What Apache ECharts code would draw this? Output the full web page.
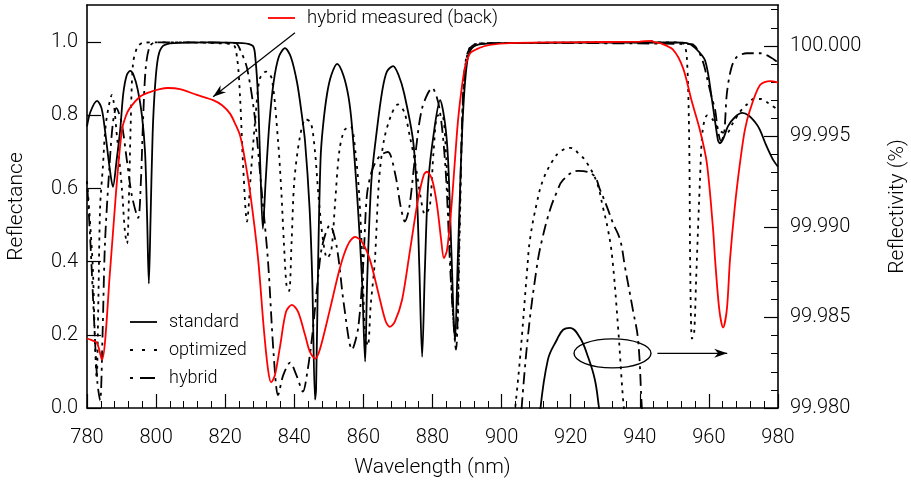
<!DOCTYPE html>
<html><head><meta charset="utf-8">
<script src="https://cdn.jsdelivr.net/npm/echarts@6/dist/echarts.min.js"></script>
<style>html,body{margin:0;padding:0;background:#fff}#c{width:911px;height:486px}</style>
</head><body><div id="c"></div>
<script>
const FONT = 'Roboto';
const WEIGHT = 300;

// axis ticks
const leftTicks = [0, 0.2, 0.4, 0.6, 0.8, 1.0];
const rightTicks = [99.98, 99.985, 99.99, 99.995, 100.0];
const rightMinor = [99.981, 99.982, 99.983, 99.984, 99.986, 99.987, 99.988, 99.989,
  99.991, 99.992, 99.993, 99.994, 99.996, 99.997, 99.998, 99.999, 100.001, 100.002];

// legend entries
const legendNames = ['standard', 'optimized', 'hybrid'];
const measuredName = 'hybrid measured (back)';

// standard design, reflectance
const stdWl = [780.0, 781.0, 782.9, 784.2, 785.2, 786.5, 787.5, 788.6, 789.6, 790.5, 791.5, 792.5, 793.5, 794.7, 795.9, 796.8, 797.4, 797.9, 798.4, 799.0, 799.7, 800.6, 802.0, 805, 815, 825, 828.0, 828.7, 829.5, 830.2, 830.9, 831.7, 832.8, 834.0, 835.5, 837.3, 839.0, 840.8, 842.2, 843.1, 844.4, 845.2, 846.0, 846.3, 846.9, 847.6, 848.3, 849.5, 850.7, 852.4, 854.2, 855.7, 856.7, 858.4, 859.6, 860.5, 861.1, 862.3, 863.9, 865.5, 866.8, 868.6, 870.2, 871.8, 874.4, 875.5, 876.2, 877.0, 877.8, 878.8, 880.5, 882.2, 883.6, 884.5, 885.5, 886.5, 887.3, 888.2, 888.8, 889.5, 890.3, 891.5, 894, 900, 950, 953.7, 956.0, 958.9, 960.9, 962.6, 963.2, 964.1, 965.5, 967.5, 969.6, 971.5, 973.5, 974.8, 976.5, 978.5, 980];
const stdR = [0.77, 0.81, 0.84, 0.82, 0.76, 0.66, 0.605, 0.68, 0.76, 0.86, 0.91, 0.922, 0.91, 0.87, 0.80, 0.70, 0.52, 0.34, 0.52, 0.75, 0.88, 0.96, 0.99, 0.998, 1.0, 0.998, 0.99, 0.96, 0.85, 0.65, 0.49, 0.62, 0.78, 0.89, 0.96, 0.984, 0.96, 0.89, 0.80, 0.73, 0.55, 0.35, 0.023, 0.05, 0.40, 0.68, 0.77, 0.86, 0.91, 0.941, 0.91, 0.85, 0.77, 0.55, 0.35, 0.127, 0.35, 0.62, 0.76, 0.87, 0.92, 0.935, 0.91, 0.86, 0.73, 0.58, 0.38, 0.14, 0.38, 0.62, 0.76, 0.842, 0.78, 0.68, 0.42, 0.18, 0.40, 0.66, 0.80, 0.90, 0.96, 0.985, 0.995, 0.998, 1.0, 0.998, 0.985, 0.95, 0.842, 0.733, 0.724, 0.735, 0.77, 0.795, 0.807, 0.80, 0.78, 0.76, 0.72, 0.68, 0.66];

// optimized design, reflectance
const optWl = [780, 780.8, 781.7, 782.3, 782.8, 783.3, 783.8, 784.6, 785.5, 787.2, 788.7, 790.1, 791.0, 791.6, 792.2, 792.6, 793.3, 794.5, 796, 800, 822, 823.4, 824.3, 825.2, 826.3, 827.5, 828.8, 830.0, 831.8, 833.5, 835.3, 836.2, 837.0, 837.8, 838.5, 839.2, 840.0, 841.6, 843.3, 844.8, 846.0, 847.0, 848.3, 849.5, 850.7, 851.8, 853.0, 854.5, 856.3, 857.7, 858.8, 859.7, 860.5, 861.3, 862.1, 863.3, 864.5, 865.9, 868.0, 870.0, 871.8, 873.5, 875.0, 876.5, 877.8, 879.2, 880.3, 881.5, 882.8, 884.0, 885.0, 886.2, 887.0, 887.8, 888.5, 889.3, 890.5, 892, 900, 950, 952.5, 953.6, 954.3, 954.6, 955.1, 955.7, 956.3, 957.4, 958.2, 959.5, 961, 963, 965, 967, 969, 971, 973, 975, 977, 980];
const optR = [0.62, 0.52, 0.38, 0.18, 0.08, 0.3, 0.55, 0.66, 0.78, 0.856, 0.74, 0.6, 0.48, 0.45, 0.6, 0.76, 0.94, 0.985, 0.998, 1.0, 0.995, 0.96, 0.85, 0.66, 0.51, 0.65, 0.80, 0.90, 0.92, 0.90, 0.73, 0.60, 0.45, 0.33, 0.32, 0.45, 0.62, 0.74, 0.79, 0.78, 0.70, 0.58, 0.46, 0.41, 0.43, 0.56, 0.70, 0.76, 0.77, 0.70, 0.58, 0.40, 0.20, 0.17, 0.28, 0.40, 0.62, 0.73, 0.80, 0.83, 0.81, 0.74, 0.67, 0.58, 0.53, 0.55, 0.70, 0.80, 0.80, 0.68, 0.45, 0.22, 0.20, 0.45, 0.75, 0.92, 0.98, 0.995, 0.998, 1.0, 0.998, 0.96, 0.73, 0.38, 0.19, 0.2, 0.35, 0.62, 0.76, 0.80, 0.79, 0.76, 0.75, 0.78, 0.81, 0.83, 0.845, 0.845, 0.835, 0.815];

// hybrid design, reflectance
const hybWl = [780, 781, 782, 783, 783.8, 784.5, 785.2, 786.5, 787.5, 788.5, 790, 791.5, 793, 794.8, 795.6, 796.2, 797, 798.2, 800, 823, 824.3, 826.3, 828.5, 830.5, 832.4, 834.0, 835.3, 836.8, 838.8, 840.6, 842.5, 843.8, 845.1, 846.5, 848.0, 850.3, 852.3, 854.4, 856.7, 858.5, 860.0, 861.0, 862.5, 864.8, 867.1, 869.2, 870.8, 872.0, 873.3, 875, 877, 879.9, 882, 883.8, 885.3, 886.8, 887.8, 888.8, 889.8, 891.5, 895, 955, 957, 958.5, 959.4, 960.8, 961.8, 962.6, 963.5, 964.4, 965.2, 966.5, 968.1, 971, 974.8, 977.7, 980];
const hybR = [0.62, 0.45, 0.25, 0.07, 0.02, 0.2, 0.45, 0.66, 0.78, 0.82, 0.78, 0.68, 0.58, 0.52, 0.62, 0.78, 0.93, 0.99, 1.0, 0.998, 0.98, 0.93, 0.80, 0.60, 0.40, 0.15, 0.035, 0.09, 0.124, 0.09, 0.045, 0.10, 0.19, 0.32, 0.44, 0.50, 0.44, 0.28, 0.16, 0.22, 0.40, 0.58, 0.65, 0.69, 0.70, 0.64, 0.55, 0.51, 0.55, 0.69, 0.82, 0.875, 0.82, 0.65, 0.35, 0.16, 0.50, 0.85, 0.96, 0.99, 0.998, 0.995, 0.975, 0.94, 0.905, 0.85, 0.815, 0.76, 0.73, 0.75, 0.86, 0.93, 0.96, 0.97, 0.97, 0.96, 0.945];

// hybrid coating, measured from the back side
const measWl = [780.0, 781.5, 782.9, 784.3, 786.7, 788.4, 790.1, 791.3, 792.4, 795.3, 798.2, 801.1, 803.4, 806.9, 811.8, 816.5, 819.1, 821.4, 823.0, 824.3, 825.5, 827.2, 829.5, 831.2, 832.4, 833.3, 834.4, 835.9, 837.6, 839.3, 841.1, 843.1, 844.5, 846.0, 847.4, 850.3, 853.2, 855.5, 857.6, 859.6, 861.9, 864.8, 866.5, 867.7, 869.1, 871.2, 873.5, 875.8, 877.5, 878.4, 879.9, 881.3, 882.5, 883.3, 884.2, 885.4, 886.5, 887.4, 888.5, 889.4, 890.9, 893.7, 896.6, 902.4, 920, 940, 943.5, 944.2, 945.8, 949.6, 952.5, 955.0, 957.4, 959.4, 961.2, 961.8, 963.0, 964.1, 965.2, 966.1, 967.5, 969.0, 970.4, 971.9, 974.8, 977.7, 980];
const measR = [0.19, 0.185, 0.178, 0.132, 0.378, 0.59, 0.76, 0.80, 0.82, 0.851, 0.864, 0.872, 0.875, 0.872, 0.856, 0.842, 0.828, 0.805, 0.775, 0.745, 0.69, 0.59, 0.41, 0.214, 0.105, 0.07, 0.09, 0.17, 0.263, 0.282, 0.263, 0.2, 0.154, 0.135, 0.16, 0.269, 0.383, 0.446, 0.468, 0.454, 0.405, 0.296, 0.236, 0.222, 0.236, 0.296, 0.432, 0.569, 0.638, 0.646, 0.624, 0.555, 0.46, 0.41, 0.432, 0.541, 0.678, 0.788, 0.878, 0.93, 0.97, 0.985, 0.993, 0.998, 1.0, 1.002, 1.004, 1.0, 0.998, 0.98, 0.93, 0.84, 0.76, 0.67, 0.49, 0.405, 0.27, 0.22, 0.27, 0.405, 0.55, 0.67, 0.76, 0.815, 0.883, 0.894, 0.89];

// band-centre detail, reflectivity in percent
const stdZoomWl = [911.0, 913.4, 916.0, 917.8, 919.8, 922.7, 925.0, 927.0, 928.2, 929.0];
const stdZoomP = [99.9795, 99.98267, 99.98377, 99.98432, 99.98443, 99.98388, 99.98283, 99.98156, 99.98, 99.9788];
const optZoomWl = [903.5, 905.3, 907.4, 908.2, 910.2, 912.0, 914.9, 916.9, 919.8, 922.7, 924.7, 927.6, 929.3, 930.8, 932.0, 933.7, 935.1, 935.8];
const optZoomP = [99.9792, 99.98267, 99.98763, 99.98929, 99.99133, 99.9926, 99.9937, 99.99415, 99.99437, 99.99398, 99.99354, 99.99244, 99.99111, 99.98984, 99.98835, 99.98448, 99.98061, 99.9793];
const hybZoomWl = [905.6, 907.6, 910.2, 911.7, 914.0, 916.0, 917.8, 922.1, 926.5, 928.5, 930.5, 932.2, 934.3, 935.7, 938.0, 939.5, 940.6, 941.0];
const hybZoomP = [99.9795, 99.98393, 99.9878, 99.98929, 99.99094, 99.99194, 99.9926, 99.9931, 99.99288, 99.99205, 99.99111, 99.99023, 99.98929, 99.9878, 99.98542, 99.98377, 99.98, 99.9792];

const zip = (a, b) => a.map((v, i) => [v, b[i]]);

const chart = echarts.init(document.getElementById('c'), null, { renderer: 'canvas' });
const black = '#000';
const red = '#ff0000';
const DOT = [3, 5];
const DASH = [3, 5, 12, 5];
const solid = { color: black, width: 1.8, type: 'solid' };
const dotted = { color: black, width: 1.8, type: DOT };
const dashed = { color: black, width: 1.8, type: DASH };
const lineSeries = (name, data, style, yIdx, smooth) => ({
  name, type: 'line', data, yAxisIndex: yIdx, showSymbol: false, symbol: 'none',
  smooth: smooth, lineStyle: style, itemStyle: { color: style.color }, z: 3,
  emphasis: { disabled: true }, animation: false, clip: true
});
const tickText = { color: black, fontFamily: FONT, fontWeight: WEIGHT, fontSize: 20 };
const nameText = { color: black, fontFamily: FONT, fontWeight: WEIGHT, fontSize: 21 };

chart.setOption({
  animation: false,
  grid: { left: 87, right: 133, top: 5, bottom: 78, containLabel: false, outerBoundsMode: 'none' },
  xAxis: [{
    type: 'value', min: 780, max: 980, interval: 20, position: 'bottom',
    axisLine: { lineStyle: { color: black, width: 1.6 } },
    axisTick: { inside: true, length: 14, lineStyle: { color: black, width: 1.2 } },
    minorTick: { show: true, splitNumber: 5, length: 7, lineStyle: { color: black, width: 1 } },
    splitLine: { show: false },
    axisLabel: Object.assign({ margin: 20 }, tickText),
    name: 'Wavelength (nm)', nameLocation: 'middle', nameGap: 49,
    nameTextStyle: nameText
  }, {
    type: 'value', min: 780, max: 980, position: 'top',
    axisLine: { onZero: false, lineStyle: { color: black, width: 1.6 } },
    axisTick: { show: false }, axisLabel: { show: false }, splitLine: { show: false }
  }],
  yAxis: [{
    type: 'value', min: 0, max: 1.102, position: 'left',
    axisLine: { show: true, lineStyle: { color: black, width: 1.6 } },
    axisTick: { inside: true, length: 14, customValues: leftTicks, lineStyle: { color: black, width: 1.2 } },
    axisLabel: Object.assign({ margin: 9, customValues: leftTicks, formatter: v => v.toFixed(1) }, tickText),
    splitLine: { show: false },
    name: 'Reflectance', nameLocation: 'middle', nameGap: 60, nameRotate: 90,
    nameTextStyle: nameText
  }, {
    type: 'value', min: 99.98, max: 100.00226, position: 'right',
    axisLine: { show: true, lineStyle: { color: black, width: 1.6 } },
    axisTick: { inside: true, length: 14, customValues: rightTicks, lineStyle: { color: black, width: 1.2 } },
    axisLabel: Object.assign({ margin: 12, customValues: rightTicks, formatter: v => v.toFixed(3) }, tickText),
    splitLine: { show: false },
    name: 'Reflectivity (%)', nameLocation: 'middle', nameGap: 109, nameRotate: 90,
    nameTextStyle: nameText
  }, {
    type: 'value', min: 99.98, max: 100.00226, position: 'right',
    axisLine: { show: false },
    axisTick: { inside: true, length: 7, customValues: rightMinor, lineStyle: { color: black, width: 1 } },
    axisLabel: { show: false }, splitLine: { show: false }
  }],
  series: [
    lineSeries(legendNames[0], zip(stdWl, stdR), solid, 0, 0.3),
    lineSeries(legendNames[1], zip(optWl, optR), dotted, 0, 0.3),
    lineSeries(legendNames[2], zip(hybWl, hybR), dashed, 0, 0.3),
    lineSeries(measuredName, zip(measWl, measR), { color: red, width: 1.8, type: 'solid' }, 0, 0.3),
    lineSeries(legendNames[0], zip(stdZoomWl, stdZoomP), solid, 1, 0.4),
    lineSeries(legendNames[1], zip(optZoomWl, optZoomP), dotted, 1, 0.4),
    lineSeries(legendNames[2], zip(hybZoomWl, hybZoomP), dashed, 1, 0.4)
  ]
});

// annotations: legend keys, leader arrow to the measured curve, ellipse pointing to the right-hand scale
function px(x, y, yIdx) { return chart.convertToPixel({ xAxisIndex: 0, yAxisIndex: yIdx || 0 }, [x, y]); }
function arrowHead(tip, from, len, half) {
  const dx = tip[0] - from[0], dy = tip[1] - from[1];
  const d = Math.hypot(dx, dy), ux = dx / d, uy = dy / d;
  const bx = tip[0] - ux * len, by = tip[1] - uy * len;
  const mx = tip[0] - ux * len * 0.7, my = tip[1] - uy * len * 0.7;
  return [tip, [bx - uy * half, by + ux * half], [mx, my], [bx + uy * half, by - ux * half]];
}
const keyStyles = [null, [3, 9], [3, 7, 15, 10]];
const g = [];
legendNames.forEach((name, i) => {
  const y = 322 + i * 28;
  g.push({ type: 'line', shape: { x1: 130, y1: y, x2: 157, y2: y },
    style: { stroke: black, lineWidth: 1.8, lineDash: keyStyles[i] }, z: 10 });
  g.push({ type: 'text', x: 169, y: y, style: { text: name, fill: black, font: WEIGHT + ' 18px ' + FONT, textVerticalAlign: 'middle' }, z: 10 });
});
g.push({ type: 'line', shape: { x1: 268, y1: 18, x2: 295, y2: 18 }, style: { stroke: red, lineWidth: 1.8 }, z: 10 });
g.push({ type: 'text', x: 307, y: 18, style: { text: measuredName, fill: black, font: WEIGHT + ' 18.5px ' + FONT, textVerticalAlign: 'middle' }, z: 10 });

const a0 = px(840.2, 1.026), a1 = px(816.5, 0.851);
const e0 = px(932.1, 99.98302, 1);
const r0 = px(945.1, 99.98302, 1), r1 = px(965.3, 99.98302, 1);
g.push(
  { type: 'line', shape: { x1: a0[0], y1: a0[1], x2: a1[0], y2: a1[1] }, style: { stroke: black, lineWidth: 1.2 }, z: 10 },
  { type: 'polygon', shape: { points: arrowHead(a1, a0, 13, 4.5) }, style: { fill: black }, z: 10 },
  { type: 'ellipse', shape: { cx: e0[0], cy: e0[1], rx: 38.5, ry: 14.5 }, style: { fill: 'none', stroke: black, lineWidth: 1.4 }, z: 10 },
  { type: 'line', shape: { x1: r0[0], y1: r0[1], x2: r1[0], y2: r1[1] }, style: { stroke: black, lineWidth: 1.4 }, z: 10 },
  { type: 'polygon', shape: { points: arrowHead(r1, r0, 13, 4.5) }, style: { fill: black }, z: 10 }
);
chart.setOption({ graphic: g });
</script></body></html>
